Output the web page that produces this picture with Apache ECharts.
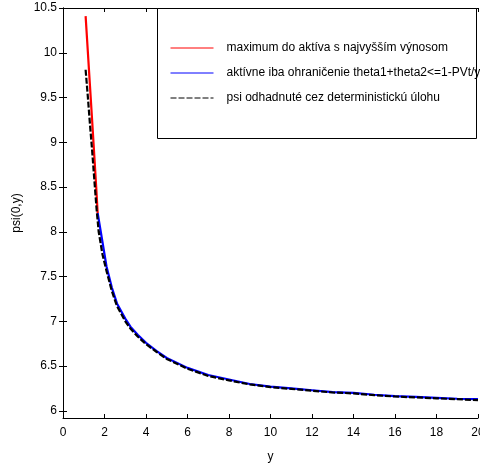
<!DOCTYPE html>
<html>
<head>
<meta charset="utf-8">
<script src="https://cdn.jsdelivr.net/npm/echarts@6/dist/echarts.min.js"></script>
<style>html,body{margin:0;padding:0;background:#fff}#c{width:480px;height:470px}</style>
</head>
<body>
<div id="c"></div>
<script>
var seriesNames = [
  'maximum do aktíva s najvyšším výnosom',
  'aktívne iba ohraničenie theta1+theta2<=1-PVt/y',
  'psi odhadnuté cez deterministickú úlohu'
];
var redX = [1.09, 1.2, 1.3, 1.4, 1.5, 1.6, 1.67];
var redY = [10.41, 10.0, 9.63, 9.26, 8.88, 8.5, 8.21];
var blueX = [1.67, 1.82, 2.1, 2.35, 2.6, 3.0, 3.25, 3.6, 4.0, 4.5, 5.0, 6, 7, 8, 9, 10, 11, 12, 13, 14, 15, 16, 17, 18, 19, 20];
var blueY = [8.21, 8.0, 7.61, 7.38, 7.20, 7.03, 6.94, 6.85, 6.76, 6.67, 6.59, 6.48, 6.40, 6.35, 6.30, 6.27, 6.25, 6.23, 6.21, 6.20, 6.18, 6.165, 6.155, 6.145, 6.135, 6.13];
var dashX = [1.09, 1.2, 1.3, 1.4, 1.5, 1.62, 1.72, 1.9, 2.1, 2.35, 2.6, 3.0, 3.25, 3.6, 4.0, 4.5, 5.0, 6, 7, 8, 9, 10, 11, 12, 13, 14, 15, 16, 17, 18, 19, 20];
var dashY = [9.81, 9.5, 9.2, 8.92, 8.61, 8.25, 8.0, 7.75, 7.56, 7.34, 7.17, 7.0, 6.92, 6.83, 6.745, 6.66, 6.58, 6.47, 6.39, 6.34, 6.295, 6.265, 6.245, 6.225, 6.205, 6.195, 6.175, 6.16, 6.15, 6.14, 6.13, 6.12];
var xTicks = [0, 2, 4, 6, 8, 10, 12, 14, 16, 18, 20];
var yTicks = [6, 6.5, 7, 7.5, 8, 8.5, 9, 9.5, 10, 10.5];
var xName = 'y';
var yName = 'psi(0,y)';

function pairs(xs, ys) { return xs.map(function (x, i) { return [x, ys[i]]; }); }

var font = '"Liberation Sans", Arial, sans-serif';
var chart = echarts.init(document.getElementById('c'), null, {renderer: 'canvas'});
var axisLine = {show: true, lineStyle: {color: '#000', width: 1}};
chart.setOption({
  animation: false,
  backgroundColor: '#fff',
  grid: {left: 63, right: 2, top: 8, bottom: 52, containLabel: false, outerBoundsMode: 'none'},
  graphic: [{
    type: 'rect', left: 157, top: 8, z: 5,
    shape: {width: 319, height: 130},
    style: {fill: '#fff', stroke: '#000', lineWidth: 1}
  }],
  legend: {
    orient: 'vertical', left: 170, top: 42, padding: 0, z: 10,
    itemWidth: 43, itemHeight: 14, itemGap: 13,
    data: seriesNames,
    lineStyle: {width: 1},
    itemStyle: {opacity: 0},
    textStyle: {fontFamily: font, fontSize: 12, color: '#000', padding: [0, 0, 0, 8]}
  },
  xAxis: [{
    type: 'value', min: 0, max: 20, position: 'bottom',
    name: xName, nameLocation: 'middle', nameGap: 33,
    nameTextStyle: {fontFamily: font, fontSize: 12, color: '#000'},
    axisLine: axisLine,
    axisTick: {show: true, inside: true, length: 4, customValues: xTicks, lineStyle: {color: '#000'}},
    axisLabel: {customValues: xTicks, margin: 9, fontFamily: font, fontSize: 12, color: '#000'},
    splitLine: {show: false}
  }, {
    type: 'value', min: 0, max: 20, position: 'top',
    axisLine: axisLine,
    axisTick: {show: true, inside: true, length: 4, customValues: xTicks, lineStyle: {color: '#000'}},
    axisLabel: {show: false},
    splitLine: {show: false}
  }],
  yAxis: [{
    type: 'value', min: 5.92, max: 10.5, position: 'left',
    name: yName, nameLocation: 'middle', nameGap: 33,
    nameTextStyle: {fontFamily: font, fontSize: 12, color: '#000'},
    axisLine: axisLine,
    axisTick: {show: true, inside: true, length: 4, customValues: yTicks, lineStyle: {color: '#000'}},
    axisLabel: {customValues: yTicks, margin: 6, fontFamily: font, fontSize: 12, color: '#000'},
    splitLine: {show: false}
  }, {
    type: 'value', min: 5.92, max: 10.5, position: 'right',
    axisLine: axisLine,
    axisTick: {show: true, inside: true, length: 4, customValues: yTicks, lineStyle: {color: '#000'}},
    axisLabel: {show: false},
    splitLine: {show: false}
  }],
  series: [{
    name: seriesNames[0], type: 'line', symbol: 'none', smooth: false,
    data: pairs(redX, redY),
    lineStyle: {color: '#ff0000', width: 2.2}, itemStyle: {color: '#ff0000'}
  }, {
    name: seriesNames[1], type: 'line', symbol: 'none',
    data: pairs(blueX, blueY),
    lineStyle: {color: '#0000ff', width: 2.2}, itemStyle: {color: '#0000ff'}
  }, {
    name: seriesNames[2], type: 'line', symbol: 'none',
    data: pairs(dashX, dashY),
    lineStyle: {color: '#000', width: 2.2, type: [6, 2]}, itemStyle: {color: '#000'}
  }]
});
</script>
</body>
</html>
